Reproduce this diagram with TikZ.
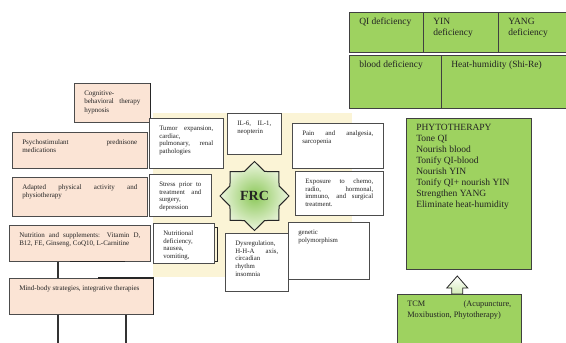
\documentclass[tikz,border=0pt]{standalone}
\usepackage{fontspec}
\setmainfont{Liberation Serif}
\usetikzlibrary{shapes.geometric,calc}
\definecolor{peach}{RGB}{251,228,213}
\definecolor{cream}{RGB}{251,244,214}
\definecolor{leaf}{RGB}{158,210,96}
\definecolor{starin}{RGB}{140,200,90}
\definecolor{starout}{RGB}{236,245,222}
\definecolor{ink}{RGB}{35,35,35}
\hyphenpenalty=10000
\tolerance=10000
\hbadness=10000

\begin{document}
\begin{tikzpicture}[
  x=1pt, y=-1pt,
  cell/.style={draw=black!70, line width=0.6pt, anchor=north west, align=justify,
    inner xsep=10pt, inner ysep=4pt, text height=8pt, text=ink},
  boxsize/.style 2 args={text width=#1pt-20pt, text depth=#2pt-16pt},
  care/.style={cell, fill=peach, font=\fontsize{7}{8.5}\selectfont},
  cause/.style={cell, fill=white, font=\fontsize{6.8}{7.8}\selectfont},
  herb/.style={cell, fill=leaf, draw=black!75, font=\fontsize{9.5}{11}\selectfont},
  wire/.style={line width=1.3pt, black!80}
]
\clip (0,0) rectangle (566,343);
\fill[white] (0,0) rectangle (566,343);
\fill[cream] (153,113) rectangle (352,277);

% left column
\node[care, boxsize={76}{39}] (cbt) at (74,83) {Cognitive-\\behavioral therapy\linebreak hypnosis};
\node[care, boxsize={135}{36}] (psy) at (12,132) {Psychostimulant prednisone\linebreak medications};
\node[care, boxsize={135}{39}] (apa) at (12,177) {Adapted physical activity and\linebreak physiotherapy};
\node[care, boxsize={141}{36}] (nut) at (9,225) {Nutrition and supplements: Vitamin D,\linebreak B12, FE, Ginseng, CoQ10, L-Carnitine};
\node[care, boxsize={144}{36}] (mbs) at (9,278) {Mind-body strategies, integrative therapies};
\draw[line width=1.6pt, black!85] (cbt.north east) -- (cbt.south east);
\draw[line width=1.6pt, black!85] ([xshift=61pt]nut.south west) -- ([xshift=116pt]nut.south west);
\draw[line width=1.2pt, black!85] ([xshift=89pt]mbs.north west) -- (mbs.north east) -- (mbs.south east);

\coordinate (d1) at (58,350);
\coordinate (d2) at (126,350);
\draw[wire] (nut.south -| d1) -- (mbs.north -| d1);
\draw[wire] (mbs.south -| d1) -- (d1);
\draw[wire] (mbs.south -| d2) -- (d2);

% causes round the star
\node[cause, boxsize={74}{50}] (tum) at (149,118) {Tumor expansion,\linebreak cardiac,\\pulmonary, renal\linebreak pathologies};
\node[cause, boxsize={54}{41}] (ilx) at (227,113) {IL-6, IL-1,\linebreak neopterin};
\node[cause, boxsize={91}{45}] (pai) at (292,123) {Pain and analgesia,\linebreak sarcopenia};
\node[cause, boxsize={88}{44}] (exp) at (295,171) {Exposure to chemo,\linebreak radio, hormonal,\linebreak immuno, and surgical\linebreak treatment.};
\node[cause, boxsize={62}{42}] (str) at (149,174) {Stress prior to\linebreak treatment and\linebreak surgery,\\depression};
\node[cause, boxsize={61}{40}] (nde) at (153,223) {Nutritional\\deficiency,\\nausea,\\vomiting,};
\node[cause, boxsize={81}{57}] (gen) at (288,222) {genetic\\polymorphism};
\node[cause, boxsize={63}{58}] (dys) at (225,233) {Dysregulation,\\H-H-A axis,\linebreak circadian\\rhythm\\insomnia};
\draw[line width=0.8pt, black!85] ($(nde.north east)+(0,4)$) -- ++(3,0) -- ($(nde.south east)+(3,-2)$) -- ($(nde.south east)+(0,-2)$);

\node[star, star points=8, star point ratio=1.3, minimum size=69pt, inner sep=0pt,
  draw=black!85, line width=1pt, inner color=starin, outer color=starout,
  text=ink, font=\fontsize{14}{14}\selectfont\bfseries] (frc) at (254.5,196) {FRC};

% TCM side
\node[herb, boxsize={74}{40}] (qid) at (349,12) {QI~deficiency};
\node[herb, boxsize={75}{40}] (yin) at (423,12) {YIN\\deficiency};
\node[herb, boxsize={72}{40}] (yng) at (498,12) {YANG\\deficiency};
\node[herb, boxsize={92}{53}] (bld) at (349,55) {blood deficiency};
\node[herb, boxsize={129}{53}] (hhu) at (441,55) {Heat-humidity (Shi-Re)};
\node[herb, boxsize={125}{151}] (phy) at (406,118) {PHYTOTHERAPY\\Tone QI\\Nourish blood\\Tonify QI-blood\\Nourish YIN\\Tonify QI+ nourish YIN\\Strengthen YANG\\Eliminate heat-humidity};
\node[herb, boxsize={124}{60}, font=\fontsize{8.3}{11}\selectfont] (tcm) at (397,294) {TCM (Acupuncture,\linebreak Moxibustion, Phytotherapy)};

\coordinate (ar) at ($(tcm.north)+(-2,0)$);
\draw[black!85, line width=0.8pt, top color=white, bottom color=leaf!45]
  ($(ar)+(-5.5,0)$) -- ++(0,-6) -- ++(-5,0) -- ($(ar)+(0,-18)$)
  -- ($(ar)+(10.5,-6)$) -- ++(-5,0) -- ($(ar)+(5.5,0)$) -- cycle;
\end{tikzpicture}
\end{document}
